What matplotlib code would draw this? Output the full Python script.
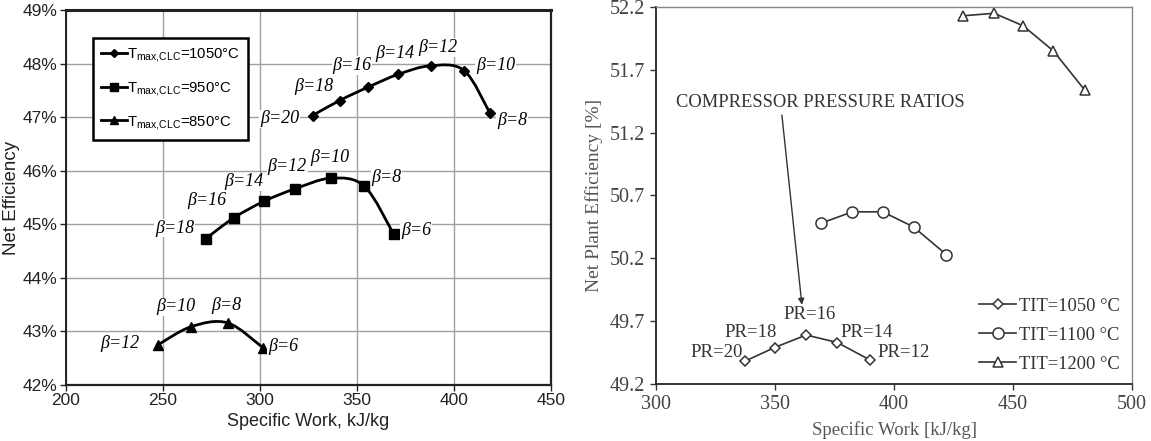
import matplotlib
matplotlib.use("Agg")
import matplotlib.pyplot as plt
import numpy as np
from matplotlib.path import Path
from matplotlib.patches import PathPatch
from matplotlib.ticker import FuncFormatter

plt.rcParams["mathtext.fontset"] = "custom"
plt.rcParams["mathtext.rm"] = "Liberation Sans"
plt.rcParams["mathtext.it"] = "Liberation Sans:italic"
plt.rcParams["mathtext.bf"] = "Liberation Sans:bold"

# ---------------- data: left panel ----------------
x_1050 = [327.1, 341.0, 355.7, 371.3, 388.1, 405.2, 418.6]
y_1050 = [47.03, 47.31, 47.56, 47.80, 47.96, 47.87, 47.07]
b_1050 = ["β=20", "β=18", "β=16", "β=14", "β=12", "β=10", "β=8"]

x_950 = [272.0, 286.5, 302.1, 317.9, 336.6, 353.8, 369.0]
y_950 = [44.73, 45.12, 45.43, 45.66, 45.86, 45.71, 44.81]
b_950 = ["β=18", "β=16", "β=14", "β=12", "β=10", "β=8", "β=6"]

x_850 = [247.4, 264.6, 283.3, 301.4]
y_850 = [42.75, 43.09, 43.16, 42.70]
b_850 = ["β=12", "β=10", "β=8", "β=6"]

# label anchor positions (data coords)
lx_1050 = [310.0, 328.0, 347.5, 369.4, 391.5, 421.4, 430.0]
ly_1050 = [46.97, 47.57, 47.96, 48.18, 48.30, 47.96, 46.94]
lx_950 = [256.0, 272.4, 291.8, 314.1, 336.2, 365.2, 380.4]
ly_950 = [44.93, 45.45, 45.79, 46.07, 46.24, 45.88, 44.88]
lx_850 = [228.0, 256.6, 282.7, 311.9]
ly_850 = [42.78, 43.46, 43.49, 42.71]

left_names = [r"T$_{\mathrm{max{,}CLC}}$=1050°C",
              r"T$_{\mathrm{max{,}CLC}}$=950°C",
              r"T$_{\mathrm{max{,}CLC}}$=850°C"]
left_xticks = [200, 250, 300, 350, 400, 450]
left_yticks = [42, 43, 44, 45, 46, 47, 48, 49]

# ---------------- data: right panel ----------------
x_t1050 = [337.2, 349.8, 363.1, 376.2, 390.0]
y_t1050 = [49.38, 49.49, 49.59, 49.53, 49.39]
pr_labels = ["PR=20", "PR=18", "PR=16", "PR=14", "PR=12"]
plx = [325.3, 339.8, 364.4, 388.4, 403.9]
ply = [49.45, 49.61, 49.75, 49.61, 49.45]

x_t1100 = [369.4, 382.5, 395.3, 408.2, 422.0]
y_t1100 = [50.48, 50.57, 50.57, 50.45, 50.23]

x_t1200 = [429.0, 442.1, 454.3, 467.0, 480.1]
y_t1200 = [52.13, 52.15, 52.05, 51.85, 51.54]

right_names = ["TIT=1050 °C", "TIT=1100 °C", "TIT=1200 °C"]
right_xticks = [300, 350, 400, 450, 500]
right_yticks = [49.2, 49.7, 50.2, 50.7, 51.2, 51.7, 52.2]


def smooth_path(xs, ys, t=1.0 / 6.0):
    """Catmull-Rom style Bezier path through the data points."""
    xs = np.asarray(xs, float)
    ys = np.asarray(ys, float)
    n = len(xs)
    verts = [(xs[0], ys[0])]
    codes = [Path.MOVETO]
    for i in range(n - 1):
        x0, y0 = (xs[i - 1], ys[i - 1]) if i > 0 else (xs[i], ys[i])
        x1, y1 = xs[i], ys[i]
        x2, y2 = xs[i + 1], ys[i + 1]
        x3, y3 = (xs[i + 2], ys[i + 2]) if i + 2 < n else (xs[i + 1], ys[i + 1])
        c1 = (x1 + (x2 - x0) * t, y1 + (y2 - y0) * t)
        c2 = (x2 - (x3 - x1) * t, y2 - (y3 - y1) * t)
        verts += [c1, c2, (x2, y2)]
        codes += [Path.CURVE4] * 3
    return Path(verts, codes)


fig = plt.figure(figsize=(11.51, 4.41), dpi=100)
fig.patch.set_facecolor("white")

# ======================= LEFT PANEL =======================
axL = fig.add_axes([66 / 1151, 1 - 385 / 441, 485 / 1151, 375 / 441])
sans = "Liberation Sans"
serif = "Liberation Serif"

series_L = [(x_1050, y_1050, "D", 5.5, lx_1050, ly_1050, b_1050),
            (x_950, y_950, "s", 7.5, lx_950, ly_950, b_950),
            (x_850, y_850, "^", 7.5, lx_850, ly_850, b_850)]
handles = []
for (xs, ys, m, ms, lxs, lys, labs), name in zip(series_L, left_names):
    axL.add_patch(PathPatch(smooth_path(xs, ys), facecolor="none",
                            edgecolor="black", lw=2.0, zorder=3))
    axL.plot(xs, ys, linestyle="none", marker=m, ms=ms, color="black",
             zorder=4)
    lh, = axL.plot([], [], color="black", lw=2.0, marker=m, ms=ms - 1.5,
                   label=name)
    handles.append(lh)
    for lx, ly, lab in zip(lxs, lys, labs):
        axL.text(lx, ly, lab, family=serif, style="italic", fontsize=13,
                 ha="center", va="center", zorder=5,
                 bbox=dict(facecolor="white", edgecolor="none", pad=0.5))

axL.set_xlim(200, 450)
axL.set_ylim(42, 49)
axL.set_xticks(left_xticks)
axL.set_yticks(left_yticks)
axL.yaxis.set_major_formatter(FuncFormatter(lambda v, p: f"{v:.0f}%"))
axL.grid(True, color="#a0a0a0", lw=1.0)
axL.set_axisbelow(True)
for s in axL.spines.values():
    s.set_color("#222222")
axL.spines["top"].set_linewidth(2.2)
axL.spines["right"].set_linewidth(1.6)
axL.spines["left"].set_linewidth(1.4)
axL.spines["bottom"].set_linewidth(1.6)
axL.tick_params(direction="out", length=4, width=1.0, color="#222222",
                pad=2, labelsize=12.5)
for lab in axL.get_xticklabels() + axL.get_yticklabels():
    lab.set_family(sans)
    lab.set_color("#222222")
axL.set_xlabel("Specific Work, kJ/kg", family=sans, fontsize=13,
               color="#222222", labelpad=3)
axL.set_ylabel("Net Efficiency", family=sans, fontsize=13.5, color="#222222",
               labelpad=2)
legL = axL.legend(handles=handles, loc="upper left",
                  bbox_to_anchor=(0.056, 0.925), frameon=True, fancybox=False,
                  edgecolor="black", framealpha=1, handlelength=1.7,
                  handletextpad=0.0, labelspacing=1.05, borderpad=0.55,
                  borderaxespad=0.0,
                  prop={"family": sans, "size": 10.7})
legL.get_frame().set_linewidth(1.8)
legL.set_zorder(2)

# ======================= RIGHT PANEL =======================
axR = fig.add_axes([656 / 1151, 1 - 384 / 441, 476 / 1151, 377 / 441])
gray = "#333333"
series_R = [(x_t1050, y_t1050, "D", 5), (x_t1100, y_t1100, "o", 8),
            (x_t1200, y_t1200, "^", 7)]
for (xs, ys, m, ms), name in zip(series_R, right_names):
    axR.plot(xs, ys, color=gray, lw=1.2, marker=m, ms=ms,
             markerfacecolor="white", markeredgecolor=gray,
             markeredgewidth=1.1, label=name)
for x, y, t in zip(plx, ply, pr_labels):
    axR.text(x, y, t, family=serif, fontsize=13.5, color=gray,
             ha="center", va="center")
axR.text(369.0, 51.44, "COMPRESSOR PRESSURE RATIOS", family=serif,
         fontsize=13.3, color=gray, ha="center", va="center")
axR.annotate("", xy=(361.3, 49.83), xytext=(352.9, 51.34),
             arrowprops=dict(arrowstyle="-|>", color=gray, lw=1.0,
                             mutation_scale=9, shrinkA=0, shrinkB=0))

axR.set_xlim(300, 500)
axR.set_ylim(49.2, 52.2)
axR.set_xticks(right_xticks)
axR.set_yticks(right_yticks)
axR.yaxis.set_major_formatter(FuncFormatter(lambda v, p: f"{v:.1f}"))
axR.spines["left"].set_color(gray)
axR.spines["bottom"].set_color(gray)
axR.spines["left"].set_linewidth(1.4)
axR.spines["bottom"].set_linewidth(1.4)
axR.spines["top"].set_color("#888888")
axR.spines["right"].set_color("#888888")
axR.spines["top"].set_linewidth(1.0)
axR.spines["right"].set_linewidth(1.0)
axR.tick_params(direction="out", length=4, width=1.0, color=gray, pad=4,
                labelsize=14.5)
for lab in axR.get_xticklabels() + axR.get_yticklabels():
    lab.set_family(serif)
    lab.set_color("#444444")
axR.set_xlabel("Specific Work [kJ/kg]", family=serif, fontsize=13.5,
               color="#555555", labelpad=5)
axR.set_ylabel("Net Plant Efficiency [%]", family=serif, fontsize=14,
               color="#555555", labelpad=5)
axR.legend(loc="lower right", bbox_to_anchor=(0.99, 0.01), frameon=False,
           handlelength=2.0, handletextpad=0.15, labelspacing=0.65,
           borderaxespad=0.0, prop={"family": serif, "size": 13.3},
           labelcolor=gray)

fig.savefig("out.png", dpi=100)
